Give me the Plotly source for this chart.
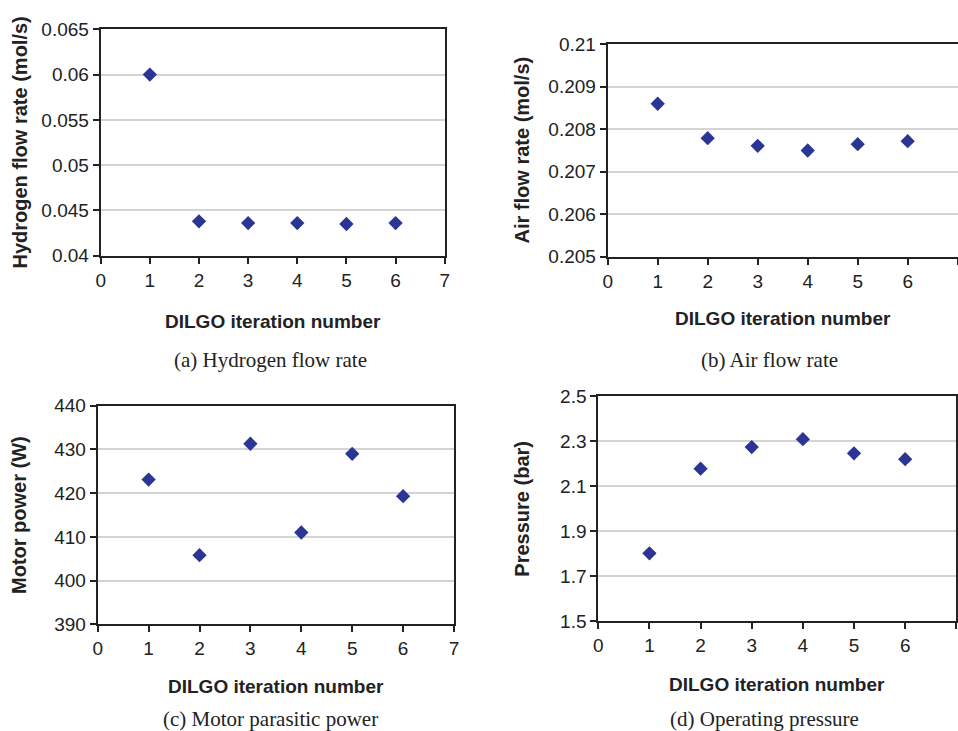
import plotly.graph_objects as go

iterations = [1, 2, 3, 4, 5, 6]
hydrogen_flow = [0.0600, 0.0438, 0.0436, 0.0436, 0.0435, 0.0436]
air_flow = [0.20860, 0.20779, 0.20761, 0.20750, 0.20765, 0.20772]
motor_power = [423.1, 405.8, 431.3, 411.0, 429.0, 419.3]
pressure = [1.801, 2.178, 2.274, 2.309, 2.246, 2.220]

x_title = "DILGO iteration number"
y_titles = ["Hydrogen flow rate (mol/s)", "Air flow rate (mol/s)", "Motor power (W)", "Pressure (bar)"]
captions = ["(a) Hydrogen flow rate", "(b) Air flow rate", "(c) Motor parasitic power", "(d) Operating pressure"]

W, H = 958, 731
# plot-area pixel boxes: left, right, top, bottom
boxes = [
    (100.7, 444.7, 29.3, 255.7),
    (607.7, 957.7, 44.3, 256.7),
    (97.7, 454.0, 405.7, 624.3),
    (598.3, 956.3, 396.3, 621.0),
]
y_ranges = [(0.04, 0.065, 0.005, ".3~f"), (0.205, 0.21, 0.001, ".3~f"),
            (390, 440, 10, "d"), (1.5, 2.5, 0.2, ".1f")]
series = [hydrogen_flow, air_flow, motor_power, pressure]
caption_pos = [(270, 360), (769, 360), (270, 719), (764, 719)]
xtitle_y = [321, 319, 686, 684]
ytitle_x = [19, 522, 19, 522]

SANS = "Liberation Sans, Arial"
fig = go.Figure()
MARK = "#2B3594"
for i in range(4):
    k = "" if i == 0 else str(i + 1)
    fig.add_trace(go.Scatter(x=iterations, y=series[i], mode="markers",
                             marker=dict(symbol="diamond", size=11, color=MARK),
                             xaxis="x" + k, yaxis="y" + k, showlegend=False,
                             cliponaxis=False))
    l, r, t, b = boxes[i]
    lo, hi, dt, fmt = y_ranges[i]
    fig.layout["xaxis" + k] = dict(
        domain=[l / W, min(r / W, 1.0)], range=[0, 7], dtick=1, tick0=0,
        anchor="y" + k, showline=True, linecolor="#222", linewidth=2, mirror=True,
        ticks="outside", ticklen=6, tickcolor="#222", tickwidth=1.5,
        showgrid=False, zeroline=False, automargin=False,
        tickfont=dict(family=SANS, size=19, color="#222"),
    )
    fig.layout["yaxis" + k] = dict(
        domain=[1 - b / H, 1 - t / H], range=[lo, hi], dtick=dt, tick0=lo,
        tickformat=fmt,
        anchor="x" + k, showline=True, linecolor="#222", linewidth=2, mirror=True,
        ticks="outside", ticklen=6, tickcolor="#222", tickwidth=1.5,
        showgrid=True, gridcolor="#d4d4d4", gridwidth=1.5, zeroline=False,
        automargin=False,
        tickfont=dict(family=SANS, size=19, color="#222"),
    )
    fig.add_annotation(text="<b>" + x_title + "</b>", x=(l + min(r, 958)) / 2 / W,
                       y=1 - xtitle_y[i] / H, xref="paper", yref="paper",
                       showarrow=False, xanchor="center", yanchor="middle",
                       font=dict(family=SANS, size=19, color="#222"))
    fig.add_annotation(text="<b>" + y_titles[i] + "</b>", x=ytitle_x[i] / W,
                       y=1 - (t + b) / 2 / H, xref="paper", yref="paper",
                       textangle=-90, showarrow=False, xanchor="center", yanchor="middle",
                       font=dict(family=SANS, size=20, color="#222"))
    cx, cy = caption_pos[i]
    fig.add_annotation(text=captions[i], x=cx / W, y=1 - cy / H, xref="paper", yref="paper",
                       showarrow=False, xanchor="center", yanchor="middle",
                       font=dict(family="Liberation Serif, Times New Roman", size=21, color="#222"))

fig.update_layout(width=W, height=H, margin=dict(l=0, r=0, t=0, b=0),
                  paper_bgcolor="white", plot_bgcolor="white", showlegend=False)
fig.write_html("out.html", config={"displayModeBar": False},
               post_script="document.body.style.margin='0';document.body.style.overflow='hidden';")
